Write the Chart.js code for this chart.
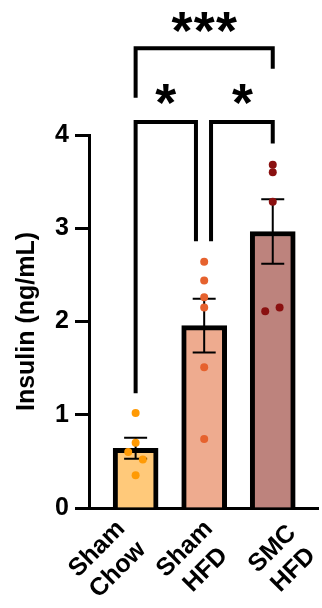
<!DOCTYPE html>
<html><head><meta charset="utf-8">
<script src="https://cdn.jsdelivr.net/npm/chart.js@4"></script>
<style>html,body{margin:0;padding:0;background:#fff}#wrap{position:relative;width:322px;height:608px}</style>
</head><body><div id="wrap"><canvas id="c"></canvas></div>
<script>
// ---- data ----
const categories = [['Sham','Chow'],['Sham','HFD'],['SMC','HFD']];
const groupX = [0, 1, 2];
const means = [0.64, 1.955, 2.965];
const sems = [0.113, 0.288, 0.347];
const shamChow = [1.02, 0.70, 0.60, 0.52, 0.35];
const shamChowJitter = [0, 0, -0.108, 0.105, 0];
const shamHfd = [2.64, 2.44, 2.26, 2.15, 1.51, 0.74];
const shamHfdJitter = [0, 0, 0, 0, 0, 0];
const smcHfd = [3.68, 3.60, 3.285, 2.11, 2.15];
const smcHfdJitter = [0, 0, 0, -0.11, 0.10];
const yTicks = [0, 1, 2, 3, 4];
const sigLabels = ['***', '*', '*'];
const sigSpans = [[0, 2], [0, 0.88], [1.10, 2]];
const sigLevels = [4.93, 4.14, 4.14];
const sigLegEnds = [[4.40, 4.71], [1.23, 2.86], [2.86, 3.91]];
const sigLabelPos = [[1, 5.205], [0.44, 4.43], [1.56, 4.43]];

// ---- styles ----
const FONT = '"Liberation Sans", Arial, Helvetica, sans-serif';
const barColors = ['#FFC97A', '#EEAB8F', '#BD837D'];
const dotColors = ['#FF9A05', '#E6622E', '#8A1010'];
const catFontSize = 25;
const catLineHeight = 29.5;
const catLabelDrop = 51.5;
const catLabelSpread = 1.28;
const catLabelShift = -0.41;

const pts = (vals, jit, gi) => vals.map((v, i) => ({x: groupX[gi] + jit[i], y: v}));

const errorBars = {
  id: 'errorBars',
  afterDatasetDraw(chart, args) {
    if (args.index !== 0) return;
    const {ctx, scales: {x, y}} = chart;
    ctx.save();
    ctx.strokeStyle = '#000';
    ctx.lineWidth = 2;
    groupX.forEach((gx, i) => {
      const px = x.getPixelForValue(gx);
      const top = y.getPixelForValue(means[i] + sems[i]);
      const bot = y.getPixelForValue(means[i] - sems[i]);
      ctx.beginPath();
      ctx.moveTo(px, top); ctx.lineTo(px, bot);
      ctx.moveTo(px - 11.5, top); ctx.lineTo(px + 11.5, top);
      ctx.moveTo(px - 11.5, bot); ctx.lineTo(px + 11.5, bot);
      ctx.stroke();
    });
    ctx.restore();
  }
};

const catLabels = {
  id: 'catLabels',
  afterDraw(chart) {
    const {ctx, scales: {x, y}} = chart;
    ctx.save();
    ctx.fillStyle = '#000';
    ctx.font = 'bold ' + catFontSize + 'px ' + FONT;
    ctx.textAlign = 'center';
    ctx.textBaseline = 'middle';
    categories.forEach((lines, i) => {
      const cx = x.getPixelForValue(groupX[i] * catLabelSpread + catLabelShift);
      const cy = y.getPixelForValue(0) + catLabelDrop;
      ctx.save();
      ctx.translate(cx, cy);
      ctx.rotate(-Math.PI / 4);
      lines.forEach((t, j) => {
        ctx.fillText(t, 0, (j - (lines.length - 1) / 2) * catLineHeight);
      });
      ctx.restore();
    });
    ctx.restore();
  }
};

const sigMarks = {
  id: 'sigMarks',
  afterDraw(chart) {
    const {ctx, scales: {x, y}} = chart;
    ctx.save();
    ctx.strokeStyle = '#000';
    ctx.lineWidth = 4;
    ctx.lineCap = 'butt';
    ctx.lineJoin = 'miter';
    sigLabels.forEach((lab, i) => {
      const x1 = x.getPixelForValue(sigSpans[i][0]);
      const x2 = x.getPixelForValue(sigSpans[i][1]);
      const yl = y.getPixelForValue(sigLevels[i]);
      ctx.beginPath();
      ctx.moveTo(x1, y.getPixelForValue(sigLegEnds[i][0]));
      ctx.lineTo(x1, yl);
      ctx.lineTo(x2, yl);
      ctx.lineTo(x2, y.getPixelForValue(sigLegEnds[i][1]));
      ctx.stroke();
    });
    ctx.fillStyle = '#000';
    ctx.textAlign = 'left';
    ctx.textBaseline = 'alphabetic';
    ctx.font = 'bold 100px ' + FONT;
    const m0 = ctx.measureText('*');
    const w100 = m0.actualBoundingBoxRight + m0.actualBoundingBoxLeft;
    const size = 100 * 21 / w100;
    ctx.font = 'bold ' + size + 'px ' + FONT;
    const m = ctx.measureText('*');
    const dx = (m.actualBoundingBoxRight - m.actualBoundingBoxLeft) / 2;
    const dy = (m.actualBoundingBoxDescent - m.actualBoundingBoxAscent) / 2;
    const step = 22.3;
    sigLabels.forEach((lab, i) => {
      const cx = x.getPixelForValue(sigLabelPos[i][0]);
      const cy = y.getPixelForValue(sigLabelPos[i][1]);
      const n = lab.length;
      for (let k = 0; k < n; k++) {
        const sx = cx + (k - (n - 1) / 2) * step;
        ctx.fillText('*', sx - dx, cy - dy);
      }
    });
    ctx.restore();
  }
};

new Chart(document.getElementById('c'), {
  type: 'bar',
  data: {
    datasets: [
      {type: 'bar', data: groupX.map((gx, i) => ({x: gx, y: means[i]})),
       backgroundColor: barColors, borderColor: '#000', borderWidth: 5,
       barThickness: 45, order: 2},
      {type: 'scatter', data: pts(shamChow, shamChowJitter, 0), backgroundColor: dotColors[0],
       borderWidth: 0, pointRadius: 4, order: 1},
      {type: 'scatter', data: pts(shamHfd, shamHfdJitter, 1), backgroundColor: dotColors[1],
       borderWidth: 0, pointRadius: 4, order: 1},
      {type: 'scatter', data: pts(smcHfd, smcHfdJitter, 2), backgroundColor: dotColors[2],
       borderWidth: 0, pointRadius: 4, order: 1}
    ]
  },
  options: {
    responsive: true,
    maintainAspectRatio: false,
    animation: false,
    layout: {padding: {top: 135, right: 4, left: 0, bottom: 0}},
    plugins: {legend: {display: false}, tooltip: {enabled: false}},
    scales: {
      x: {
        type: 'linear', min: -0.68, max: 2.66, offset: false,
        afterBuildTicks: s => { s.ticks = groupX.map(v => ({value: v})); },
        afterFit: s => { s.height = 100; },
        grid: {display: false, drawTicks: false},
        border: {display: true, color: '#000', width: 3},
        ticks: {display: false}
      },
      y: {
        min: 0, max: 4,
        afterBuildTicks: s => { s.ticks = yTicks.map(v => ({value: v})); },
        afterFit: s => { s.width = 89; },
        grid: {drawOnChartArea: false, drawTicks: true, tickLength: 14, tickWidth: 3, tickColor: '#000', color: '#000'},
        border: {display: true, color: '#000', width: 3},
        ticks: {padding: 6, color: '#000', font: {family: FONT, size: 25, weight: 'bold'}},
        title: {display: true, text: 'Insulin (ng/mL)', color: '#000',
          font: {family: FONT, size: 25, weight: 'bold'}, padding: {top: 12, bottom: 0}}
      }
    }
  },
  plugins: [errorBars, catLabels, sigMarks]
});
</script></body></html>
